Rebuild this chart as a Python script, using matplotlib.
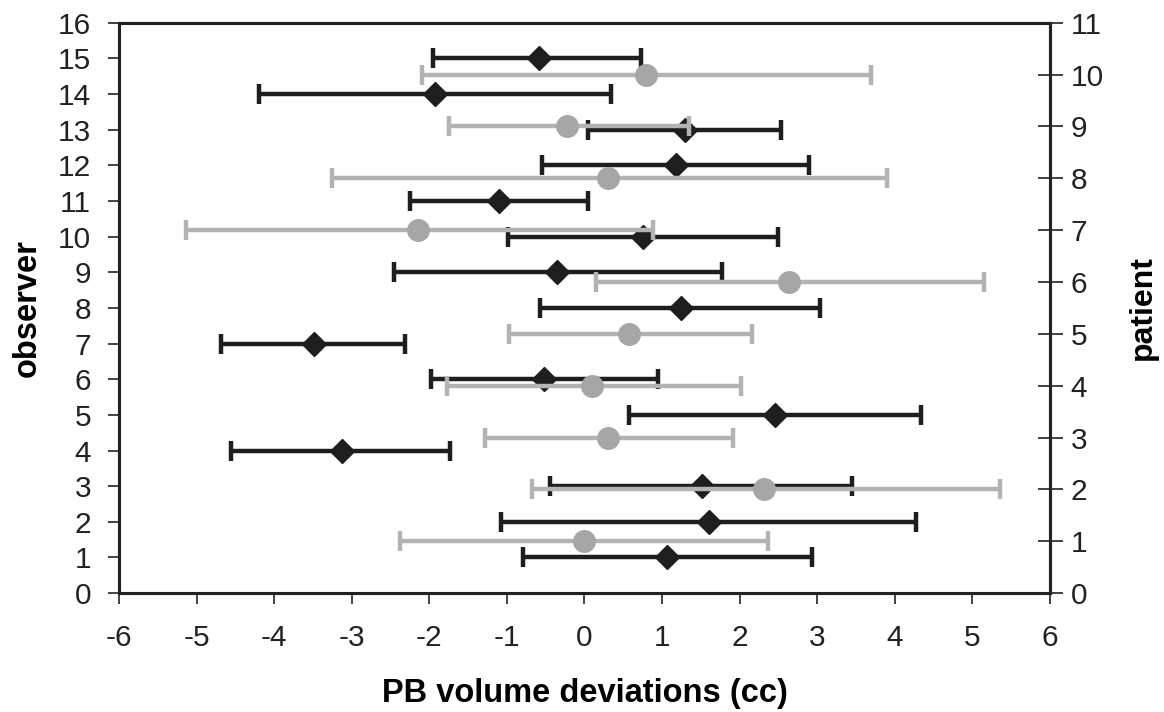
import matplotlib
matplotlib.use("Agg")
import matplotlib.pyplot as plt
import numpy as np

plt.rcParams['font.family'] = ['Liberation Sans', 'DejaVu Sans']

# Observer data (black diamonds)
obs_y = [1, 2, 3, 4, 5, 6, 7, 8, 9, 10, 11, 12, 13, 14, 15]
obs_mean = [1.06, 1.61, 1.52, -3.13, 2.45, -0.52, -3.48, 1.25, -0.35, 0.76, -1.10, 1.18, 1.29, -1.93, -0.58]
obs_low = [-0.79, -1.08, -0.44, -4.55, 0.57, -1.98, -4.68, -0.57, -2.45, -0.98, -2.25, -0.55, 0.05, -4.20, -1.95]
obs_high = [2.93, 4.28, 3.45, -1.73, 4.34, 0.95, -2.31, 3.04, 1.77, 2.49, 0.04, 2.90, 2.53, 0.34, 0.73]

# Patient data (gray circles)
pat_y = [1, 2, 3, 4, 5, 6, 7, 8, 9, 10]
pat_mean = [0.00, 2.31, 0.30, 0.10, 0.58, 2.64, -2.15, 0.30, -0.22, 0.79]
pat_low = [-2.38, -0.68, -1.28, -1.77, -0.97, 0.15, -5.14, -3.26, -1.75, -2.10]
pat_high = [2.37, 5.36, 1.92, 2.02, 2.16, 5.15, 0.88, 3.90, 1.35, 3.69]

x_ticks = [-6, -5, -4, -3, -2, -1, 0, 1, 2, 3, 4, 5, 6]

fig = plt.figure(figsize=(11.64, 7.12), dpi=100)
ax = fig.add_axes([0.1022, 0.167, 0.7998, 0.801])

om = np.array(obs_mean)
oerr = np.vstack([om - np.array(obs_low), np.array(obs_high) - om])
ax.errorbar(om, obs_y, xerr=oerr, fmt='D', color='#1e1e1e', ecolor='#1e1e1e',
            markersize=12.5, elinewidth=3.2, capsize=7, capthick=3.2, zorder=3)

ax.set_xlim(-6, 6)
ax.set_ylim(0, 16)
ax.set_xticks(x_ticks)
ax.set_xticklabels([str(t) for t in x_ticks])
ax.set_yticks(range(0, 17))
ax.tick_params(axis='both', labelsize=21.5, length=8, width=1.2, colors='#222222')
ax.tick_params(axis='x', pad=14)
ax.tick_params(axis='y', pad=12)
for s in ax.spines.values():
    s.set_linewidth(2.2)
    s.set_color('#222222')
ax.set_xlabel('PB volume deviations (cc)', fontsize=23.5, fontweight='bold', labelpad=19)
ax.set_ylabel('observer', fontsize=23.5, fontweight='bold', labelpad=11)

ax2 = ax.twinx()
pm = np.array(pat_mean)
perr = np.vstack([pm - np.array(pat_low), np.array(pat_high) - pm])
ax2.errorbar(pm, pat_y, xerr=perr, fmt='o', color='#a6a6a6', ecolor='#b3b3b3',
             markersize=15.5, elinewidth=3.2, capsize=7, capthick=3.2, zorder=3)
ax2.set_ylim(0, 11)
ax2.set_yticks(range(0, 12))
ax2.tick_params(axis='y', labelsize=21.5, length=18, width=1.2, colors='#222222',
                direction='inout', pad=6)
for s in ax2.spines.values():
    s.set_linewidth(2.2)
    s.set_color('#222222')
ax2.set_ylabel('patient', fontsize=23, fontweight='bold', labelpad=17)

fig.savefig('out.png', dpi=100)
